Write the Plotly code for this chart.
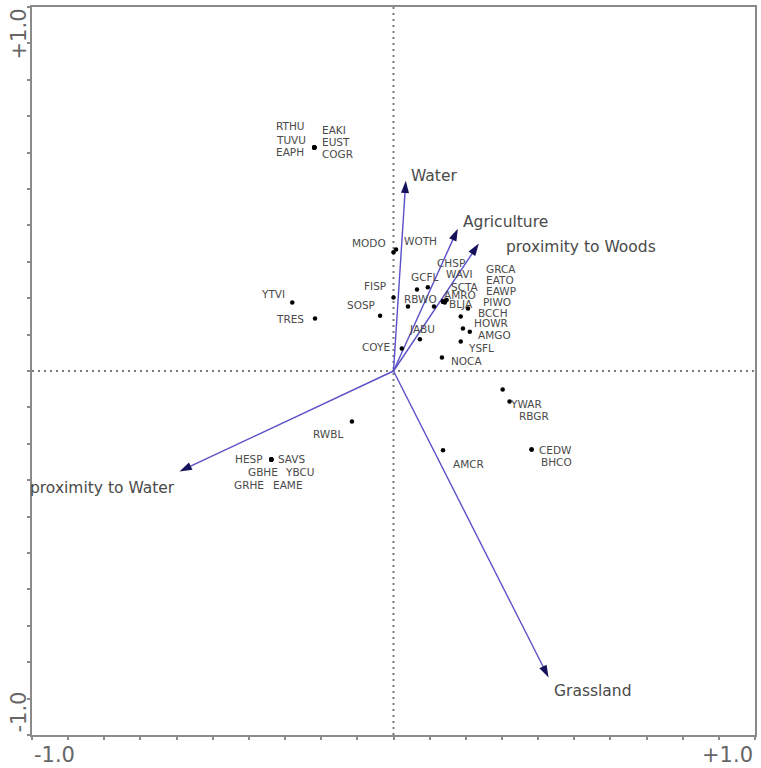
import math
import plotly.graph_objects as go

# Species scores on the first two ordination axes
species = ["RTHU", "TUVU", "EAPH", "EAKI", "EUST", "COGR",
           "MODO", "WOTH", "FISP", "SOSP", "YTVI", "TRES",
           "COYE", "JABU", "RBWO", "GCFL", "CHSP", "WAVI",
           "SCTA", "AMRO", "BLJA", "GRCA", "EATO", "EAWP",
           "PIWO", "BCCH", "HOWR", "AMGO", "YSFL", "NOCA",
           "YWAR", "RBGR", "CEDW", "BHCO", "AMCR", "RWBL",
           "HESP", "SAVS", "GBHE", "YBCU", "GRHE", "EAME"]
axis1 = [-0.219, -0.219, -0.219, -0.219, -0.219, -0.219,
         0.000, 0.007, 0.000, -0.037, -0.280, -0.217,
         0.023, 0.073, 0.040, 0.065, 0.095, 0.112,
         0.137, 0.142, 0.147, 0.137, 0.137, 0.137,
         0.206, 0.186, 0.192, 0.211, 0.186, 0.134,
         0.321, 0.302, 0.382, 0.382, 0.137, -0.115,
         -0.338, -0.338, -0.338, -0.338, -0.338, -0.338]
axis2 = [0.614, 0.614, 0.614, 0.614, 0.614, 0.614,
         0.326, 0.334, 0.202, 0.152, 0.188, 0.144,
         0.062, 0.087, 0.177, 0.224, 0.230, 0.177,
         0.191, 0.188, 0.195, 0.191, 0.191, 0.191,
         0.172, 0.150, 0.117, 0.108, 0.081, 0.037,
         -0.084, -0.051, -0.216, -0.216, -0.218, -0.139,
         -0.243, -0.243, -0.243, -0.243, -0.243, -0.243]

# Environmental variable vectors
env_vars = ["Water", "Agriculture", "proximity to Woods",
            "proximity to Water", "Grassland"]
env_x = [0.034, 0.178, 0.236, -0.592, 0.429]
env_y = [0.523, 0.391, 0.350, -0.276, -0.842]

# Label placement: pixel shift from the point (dx right, dy down) and anchor side
label_place = {
    "RTHU": (-40, -22, "left"), "TUVU": (-40, -8, "left"), "EAPH": (-40, 4, "left"),
    "EAKI": (6, -18, "left"), "EUST": (6, -6, "left"), "COGR": (6, 6, "left"),
    "MODO": (-6, -9, "right"), "WOTH": (6, -8, "left"),
    "FISP": (-6, -11, "right"), "SOSP": (-3, -11, "right"),
    "YTVI": (-5, -9, "right"), "TRES": (-9, 0, "right"),
    "COYE": (-10, -1, "right"), "JABU": (-13, -10, "left"),
    "RBWO": (-6, -8, "left"), "GCFL": (-8, -12, "left"),
    "CHSP": (7, -24, "left"), "WAVI": (10, -33, "left"),
    "SCTA": (6, -14, "left"), "AMRO": (-3, -8, "left"), "BLJA": (0, 4, "left"),
    "GRCA": (41, -32, "left"), "EATO": (41, -21, "left"), "EAWP": (41, -10, "left"),
    "PIWO": (13, -6, "left"), "BCCH": (15, -3, "left"), "HOWR": (9, -5, "left"),
    "AMGO": (6, 3, "left"), "YSFL": (5, 6, "left"), "NOCA": (7, 3, "left"),
    "YWAR": (-2, 2, "left"), "RBGR": (14, 26, "left"),
    "CEDW": (5, 0, "left"), "BHCO": (7, 12, "left"), "AMCR": (8, 14, "left"),
    "RWBL": (-7, 12, "right"),
    "HESP": (-6, 0, "right"), "SAVS": (5, 0, "left"),
    "GBHE": (-25, 13, "left"), "YBCU": (12, 13, "left"),
    "GRHE": (-39, 26, "left"), "EAME": (0, 26, "left"),
}
env_place = {
    "Water": (3, -5, "left"),
    "Agriculture": (3, -7, "left"),
    "proximity to Woods": (25, 3, "left"),
    "proximity to Water": (-2, 17, "right"),
    "Grassland": (3, 14, "left"),
}

LINE_BLUE = "#5a50c8"
HEAD_BLUE = "#15125a"
TEXT_GREY = "#4a4a4a"
FRAME_GREY = "#8a8a8a"

fig = go.Figure()

# Centre reference lines
for shape in (dict(x0=0, x1=0, y0=-1, y1=1), dict(x0=-1, x1=1, y0=0, y1=0)):
    fig.add_shape(type="line", xref="x", yref="y", layer="below",
                  line=dict(color="#7a7a7a", width=2, dash="2px,4px"), **shape)

# Environmental arrows
for name, ex, ey in zip(env_vars, env_x, env_y):
    fig.add_trace(go.Scatter(
        x=[0, ex], y=[0, ey], mode="lines+markers",
        line=dict(color=LINE_BLUE, width=1.4),
        marker=dict(symbol="arrow", angleref="previous", size=[0, 13],
                    color=HEAD_BLUE, opacity=1, line=dict(width=0)),
        hoverinfo="skip", showlegend=False))

# Species points
fig.add_trace(go.Scatter(
    x=axis1, y=axis2, mode="markers",
    marker=dict(color="black", size=4.5),
    text=species, hoverinfo="text", showlegend=False))

annotations = []
for name, sx, sy in zip(species, axis1, axis2):
    dx, dy, side = label_place[name]
    annotations.append(dict(
        x=sx, y=sy, xref="x", yref="y", text=name, showarrow=False,
        xanchor=side, yanchor="middle", xshift=dx, yshift=-dy,
        font=dict(family="DejaVu Sans", size=10.5, color=TEXT_GREY)))

for name, ex, ey in zip(env_vars, env_x, env_y):
    dx, dy, side = env_place[name]
    annotations.append(dict(
        x=ex, y=ey, xref="x", yref="y", text=name, showarrow=False,
        xanchor=side, yanchor="middle", xshift=dx, yshift=-dy,
        font=dict(family="DejaVu Sans", size=15.5, color=TEXT_GREY)))

# Axis end labels
tick_font = dict(family="DejaVu Sans", size=21, color="#666666")
annotations += [
    dict(x=-1, y=0, xref="x", yref="paper", text="-1.0", showarrow=False,
         xanchor="left", yanchor="top", yshift=-6, font=tick_font),
    dict(x=1, y=0, xref="x", yref="paper", text="+1.0", showarrow=False,
         xanchor="right", yanchor="top", yshift=-6, font=tick_font),
    dict(x=0, y=1, xref="paper", yref="y", text="+1.0", showarrow=False,
         textangle=-90, xanchor="right", yanchor="top", xshift=0, font=tick_font),
    dict(x=0, y=-1, xref="paper", yref="y", text="-1.0", showarrow=False,
         textangle=-90, xanchor="right", yanchor="bottom", xshift=0, font=tick_font),
]

axis_style = dict(
    range=[-1, 1], showgrid=False, zeroline=False,
    showline=True, linecolor=FRAME_GREY, linewidth=2, mirror=True,
    ticks="outside", ticklen=3, tickwidth=2, tickcolor=FRAME_GREY,
    tick0=-1, dtick=0.1, showticklabels=False, fixedrange=True)

fig.update_layout(
    width=761, height=768,
    margin=dict(l=32, r=4, t=7, b=33),
    paper_bgcolor="white", plot_bgcolor="white",
    xaxis=axis_style, yaxis=axis_style,
    annotations=annotations,
)

fig.write_html("out.html")
